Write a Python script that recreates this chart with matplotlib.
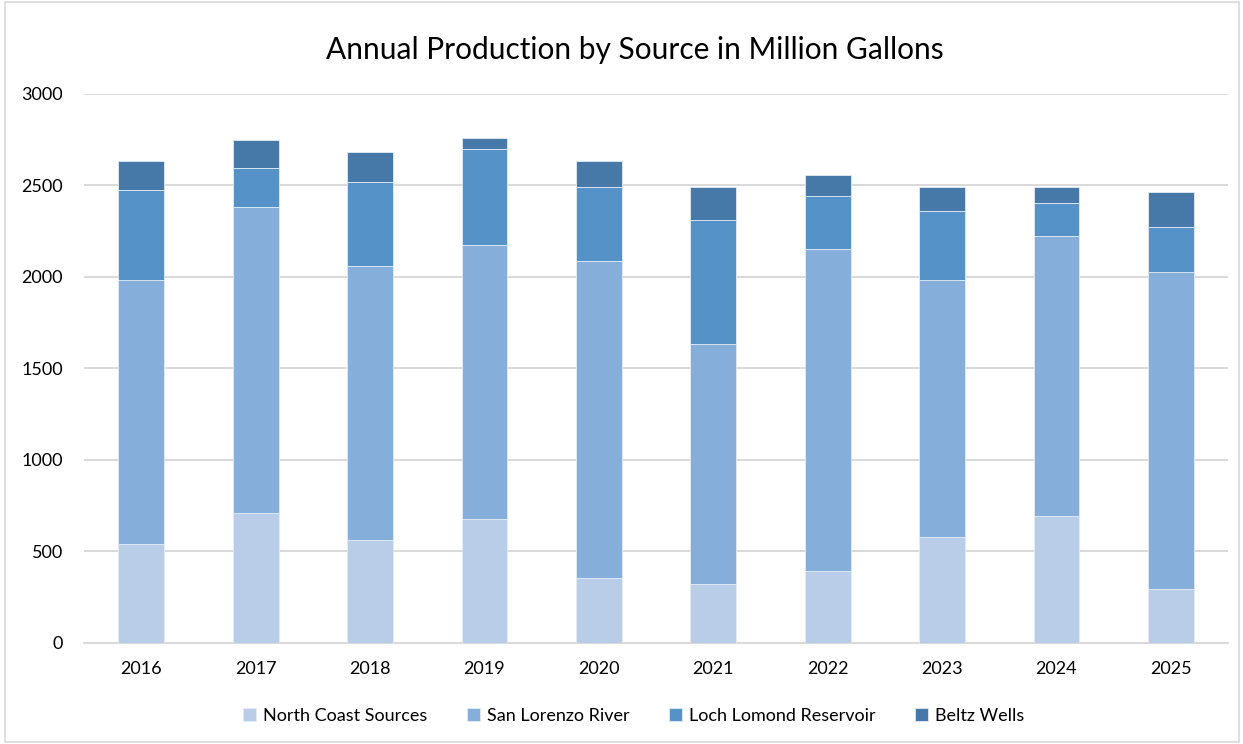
import matplotlib.pyplot as plt
import numpy as np
from matplotlib.patches import Rectangle

# Annual production (million gallons)
years = ['2016', '2017', '2018', '2019', '2020',
         '2021', '2022', '2023', '2024', '2025']
north_coast = [543, 712, 563, 676, 353, 324, 392, 581, 696, 297]
san_lorenzo = [1438, 1668, 1495, 1496, 1734, 1307, 1762, 1400, 1526, 1732]
loch_lomond = [494, 217, 463, 529, 406, 682, 286, 381, 180, 246]
beltz_wells = [161, 151, 162, 57, 143, 180, 119, 131, 91, 189]

series = [
    ('North Coast Sources', north_coast, '#B9CDE8'),
    ('San Lorenzo River', san_lorenzo, '#85AEDB'),
    ('Loch Lomond Reservoir', loch_lomond, '#5592C8'),
    ('Beltz Wells', beltz_wells, '#4679A8'),
]

plt.rcParams['font.family'] = ['Lato', 'DejaVu Sans']

fig = plt.figure(figsize=(12.43, 7.44), dpi=100)
ax = fig.add_axes([0.0676, 0.1358, 0.9204, 0.7379])

x = np.arange(len(years))
bottom = np.zeros(len(years))
for name, values, color in series:
    ax.bar(x, values, width=0.4, bottom=bottom, color=color, label=name,
           edgecolor='#E4ECF6', linewidth=0.6, zorder=3)
    bottom += np.array(values)

ax.set_xlim(-0.5, len(years) - 0.5)
ax.set_ylim(0, 3000)
ax.set_yticks(np.arange(0, 3001, 500))
ax.set_xticks(x)
ax.set_xticklabels(years)
ax.yaxis.grid(True, color='#D9D9D9', linewidth=1.4, zorder=0)
ax.tick_params(axis='both', length=0, labelsize=13, colors='#000000')
ax.tick_params(axis='x', pad=13)
ax.tick_params(axis='y', pad=15)
for side in ['top', 'right', 'left']:
    ax.spines[side].set_visible(False)
ax.spines['bottom'].set_color('#D9D9D9')
ax.spines['bottom'].set_linewidth(1.4)

fig.suptitle('Annual Production by Source in Million Gallons',
             fontsize=21.5, x=0.511, y=0.952)

fig.legend(loc='center', bbox_to_anchor=(0.51, 0.038), ncol=4,
           frameon=False, fontsize=13, handlelength=0.7, handleheight=0.7,
           handletextpad=0.4, columnspacing=2.2)

# light chart border like the spreadsheet chart area
fig.patches.append(Rectangle((0.004, 0.003), 0.993, 0.994,
                             transform=fig.transFigure, fill=False,
                             edgecolor='#D9D9D9', linewidth=1.2))

fig.savefig('out.png', dpi=100)
